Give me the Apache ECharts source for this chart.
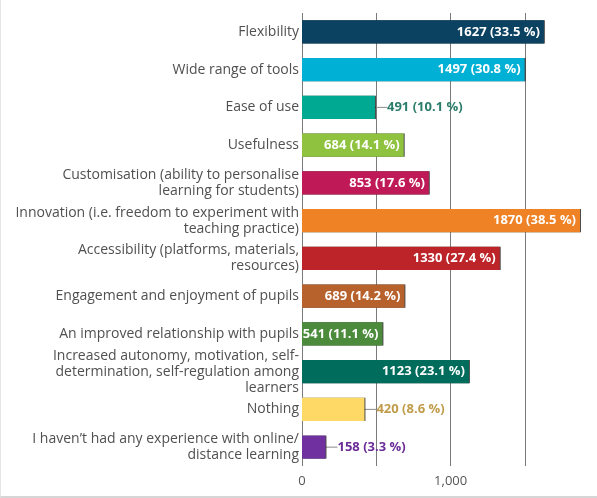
<!DOCTYPE html>
<html>
<head>
<meta charset="utf-8">
<script src="https://cdn.jsdelivr.net/npm/echarts@6/dist/echarts.min.js"></script>
<style>
  html, body { margin: 0; padding: 0; background: #fff; }
  #chart { width: 597px; height: 498px; box-sizing: border-box; border-left: 1px solid #e6e6e6; border-bottom: 2px solid #d6d6d6; }
</style>
</head>
<body>
<div id="chart"></div>
<script>
// answers, top to bottom
var categories = [
  "Flexibility",
  "Wide range of tools",
  "Ease of use",
  "Usefulness",
  "Customisation (ability to personalise\nlearning for students)",
  "Innovation (i.e. freedom to experiment with\nteaching practice)",
  "Accessibility (platforms, materials,\nresources)",
  "Engagement and enjoyment of pupils",
  "An improved relationship with pupils",
  "Increased autonomy, motivation, self-\ndetermination, self-regulation among\nlearners",
  "Nothing",
  "I haven’t had any experience with online/\ndistance learning"
];
var counts = [1627, 1497, 491, 684, 853, 1870, 1330, 689, 541, 1123, 420, 158];
var percents = [33.5, 30.8, 10.1, 14.1, 17.6, 38.5, 27.4, 14.2, 11.1, 23.1, 8.6, 3.3];
var barColors = ["#0b4262", "#00b1d5", "#00a991", "#8fc33f", "#bf1a57", "#ef8225",
                 "#bd2429", "#b7622c", "#4b8b3b", "#006c5b", "#ffd966", "#7030a0"];
// labels drawn outside the bar, with a guide line
var outsideColors = { 2: "#2b7c6b", 10: "#c09c4a", 11: "#6a2c98" };

var xTicks = { 0: "0", 1000: "1,000" };

function labelText(i) {
  return counts[i] + " (" + percents[i] + " %)";
}

var chart = echarts.init(document.getElementById("chart"));

var data = counts.map(function (v, i) {
  var item = {
    value: v,
    itemStyle: { color: barColors[i] }
  };
  if (outsideColors[i]) {
    item.label = { position: "right", distance: 0, color: outsideColors[i] };
    item.labelLine = { show: true, lineStyle: { color: "#8a8a8a", width: 1 } };
  }
  return item;
});

chart.setOption({
  animation: false,
  textStyle: { fontFamily: "Open Sans" },
  grid: { left: 301, right: 17, top: 13, bottom: 30, containLabel: false },
  xAxis: {
    type: "value",
    min: 0,
    max: 1870,
    interval: 500,
    axisLine: { show: false },
    axisTick: { show: false },
    axisLabel: {
      color: "#555",
      fontSize: 13,
      margin: 9,
      formatter: function (v) { return xTicks[v] || ""; }
    },
    splitLine: {
      show: true,
      showMaxLine: false,
      lineStyle: { color: "#7a7a7a", width: 1 }
    }
  },
  yAxis: {
    type: "category",
    inverse: true,
    data: categories,
    axisLine: { show: false },
    axisTick: { show: false },
    axisLabel: {
      color: "#505050",
      fontSize: 14,
      lineHeight: 16,
      margin: 3,
      align: "right"
    }
  },
  series: [{
    type: "bar",
    data: data,
    barWidth: "61%",
    itemStyle: {
      shadowColor: "rgba(0,0,0,0.7)",
      shadowOffsetX: 1,
      shadowBlur: 0
    },
    label: {
      show: true,
      position: "insideRight",
      distance: 4,
      color: "#fff",
      fontSize: 13,
      fontWeight: "bold",
      formatter: function (p) { return labelText(p.dataIndex); }
    },
    labelLayout: function (p) {
      return outsideColors[p.dataIndex] ? { dx: 12 } : {};
    }
  }]
});
</script>
</body>
</html>
